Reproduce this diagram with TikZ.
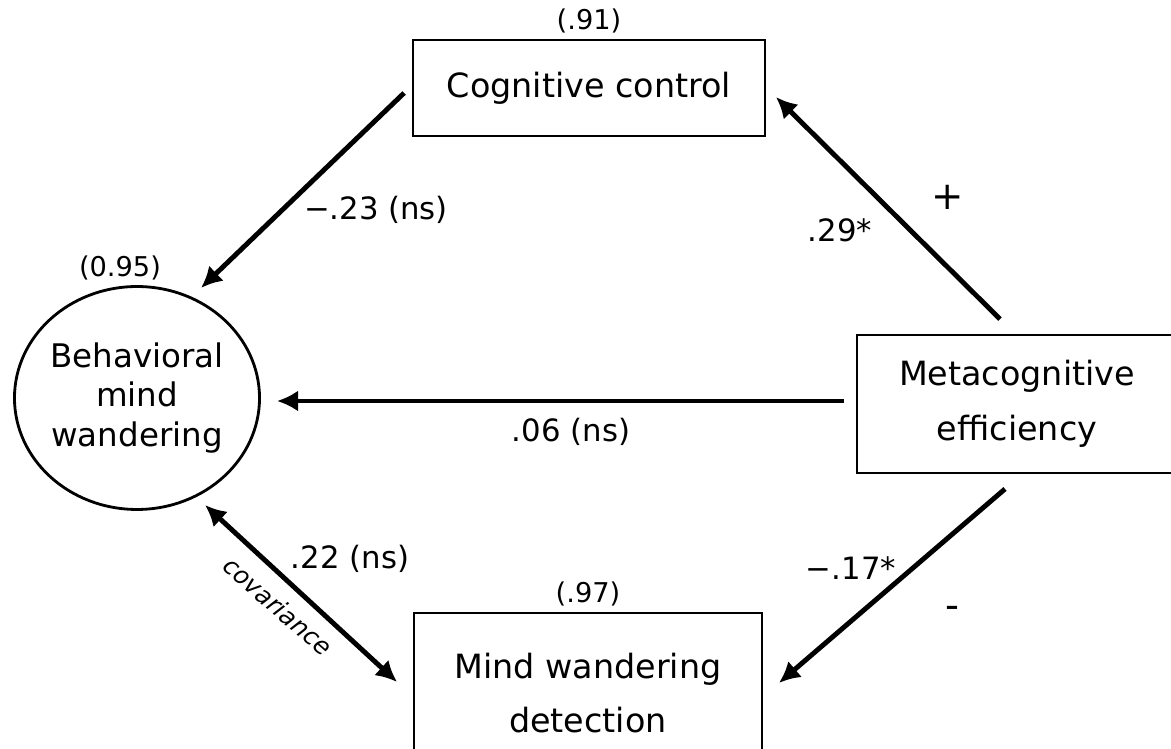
\documentclass[tikz,border=0pt]{standalone}
\usepackage{fontspec}
\setmainfont{DejaVu Sans}
\usetikzlibrary{positioning,shapes.geometric,arrows.meta}

\tikzset{
  box/.style={draw, line width=1.1pt, inner sep=0pt, align=center, font=\fontsize{19}{31}\selectfont},
  latent/.style={draw, ellipse, line width=1.6pt, inner sep=0pt, align=center, font=\fontsize{18.5}{22.7}\selectfont},
  effect/.style={line width=2.8pt, -{Latex[length=12pt,width=12pt]}},
  covar/.style={line width=2.8pt, {Latex[length=12pt,width=12pt]}-{Latex[length=12pt,width=12pt]}},
  coef/.style={font=\fontsize{17.5}{20}\selectfont},
  loading/.style={font=\fontsize{15.5}{18}\selectfont, inner sep=0pt},
  sign/.style={font=\fontsize{22}{24}\selectfont},
}

\begin{document}
\begin{tikzpicture}[x=0.02cm, y=-0.02cm]
\useasboundingbox (0, 0) rectangle (1171, 749);

\node[box, minimum width=7.04cm, minimum height=1.92cm] (cc) at (589, 88) {Cognitive control};
\node[latent, minimum width=4.86cm, minimum height=4.46cm] (bmw) at (137, 398) {Behavioral\\mind\\wandering};
\node[box, minimum width=6.4cm, minimum height=2.76cm] (me) at (1017, 404) {Metacognitive\\efficiency};
\node[box, minimum width=6.96cm, minimum height=3.2cm] (mwd) at (588, 693) {Mind wandering\\detection};

\node[loading, above=3pt of cc] (ccload) {(.91)};
\node[loading] (bmwload) at (120, 268) {(0.95)};
\node[loading, above=3pt of mwd] (mwdload) {(.97)};

\draw[effect] ([shift={(-8, 5)}]cc.west) -- ([shift={(64, -110)}]bmw.center);
\draw[effect] ([shift={(-17, -15)}]me.north) -- ([shift={(10, 9)}]cc.east);
\draw[effect] ([shift={(-12, -3)}]me.west) -- ([shift={(16, 3)}]bmw.east);
\draw[effect] ([shift={(-12, 15)}]me.south) -- ([shift={(16, -10)}]mwd.east);
\draw[covar] ([shift={(68, 107)}]bmw.center) -- ([shift={(-16, -11)}]mwd.west);

% path coefficients
\node[coef] (ccbmw) at (376, 210) {−.23 (ns)};
\node[coef] (mecc) at (840, 230) {.29*};
\node[sign] (plus) at (948, 197) {+};
\node[coef] (mebmw) at (571, 432) {.06 (ns)};
\node[coef] (bmwmwd) at (350, 559) {.22 (ns)};
\node[font=\fontsize{14}{17}\selectfont\itshape, rotate=-41] (cov) at (278, 606) {covariance};
\node[coef] (memwd) at (851, 568) {−.17*};
\node[sign] (minus) at (952, 612) {-};

\end{tikzpicture}
\end{document}
